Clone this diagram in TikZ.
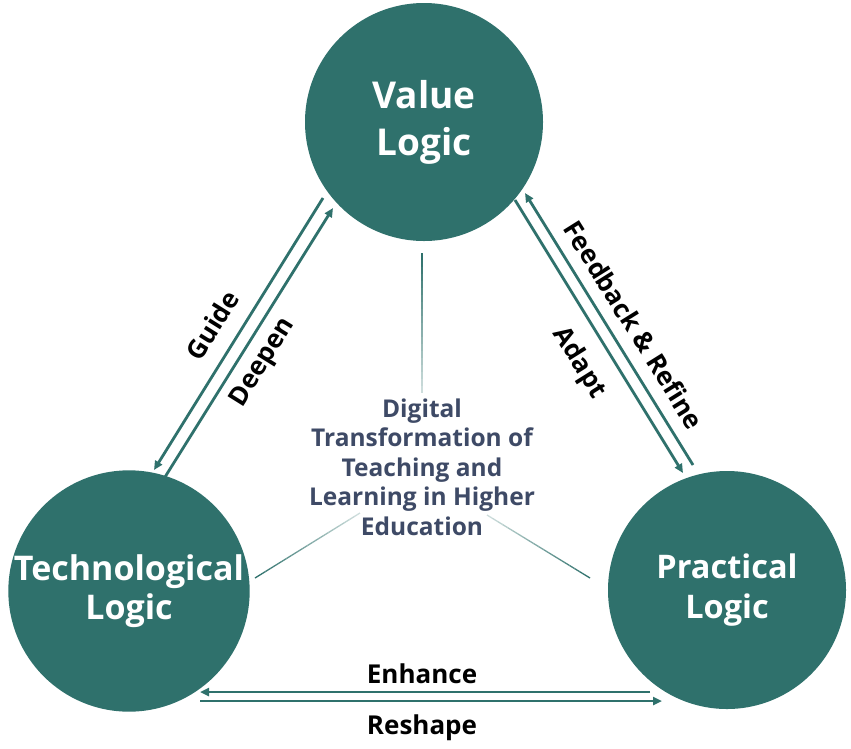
\documentclass[tikz,border=0pt]{standalone}
\usepackage{fontspec}
\setmainfont{Open Sans}
\usetikzlibrary{arrows.meta,calc}
\definecolor{tealc}{HTML}{2F716C}
\definecolor{navyc}{HTML}{3E4A66}
\begin{document}
\begin{tikzpicture}[x=1pt,y=-1pt,
  logic/.style={circle, fill=tealc, minimum size=238pt, inner sep=0pt, text=white,
    font=\bfseries\fontsize{34}{39}\selectfont, align=center},
  link/.style={draw=tealc, line width=2.8pt, -{Triangle[length=9pt,width=8pt]}},
  lbl/.style={font=\bfseries\fontsize{26}{30}\selectfont, text=black, inner sep=0pt},
  centretext/.style={font=\bfseries\fontsize{24.5}{29.5}\selectfont, text=navyc, align=center, inner sep=0pt}
]
\useasboundingbox[fill=white] (0,0) rectangle (851,748);

\node[logic, font=\bfseries\fontsize{37}{47}\selectfont] (val) at (424,122) {Value\\Logic};
\node[logic] (tech) at (129,591) {Technological\\Logic};
\node[logic, font=\bfseries\fontsize{32.5}{40}\selectfont] (prac) at (727,590) {Practical\\Logic};

\node[centretext] (core) at (422,467) {Digital\\Transformation of\\Teaching and\\Learning in Higher\\Education};

% faded thin lines
\coordinate (v1) at (422,253); \coordinate (v2) at (422,393);
\coordinate (l1) at (255,578); \coordinate (l2) at (360,513);
\coordinate (r1) at (590,578); \coordinate (r2) at (487,515);
\foreach \a/\b in {v1/v2, l1/l2, r1/r2}{
  \foreach \i in {0,...,19}{
    \pgfmathtruncatemacro\p{100-4*\i}
    \draw[tealc!\p!white, line width=1.3pt] ($(\a)!{\i/20}!(\b)$) -- ($(\a)!{(\i+1)/20}!(\b)$);
  }
}

% arrow end points
\coordinate (gS) at (323,198); \coordinate (gE) at (154,470);
\coordinate (dS) at (165,477); \coordinate (dE) at (333,208);
\coordinate (aS) at (515,200); \coordinate (aE) at (683,473);
\coordinate (fS) at (693,465); \coordinate (fE) at (525,193);
\coordinate (eS) at (650,692); \coordinate (eE) at (200,692);
\coordinate (rS) at (200,701); \coordinate (rE) at (662,701);

\draw[link] (gS) -- (gE);
\draw[link] (dS) -- (dE);
\draw[link] (aS) -- (aE);
\draw[link] (fS) -- (fE);
\draw[link] (eS) -- (eE);
\draw[link] (rS) -- (rE);

\node[lbl, rotate=58] (guide) at (212,325) {Guide};
\node[lbl, rotate=58] (deepen) at (263,363) {Deepen};
\node[lbl, rotate=-58] (feedback) at (634,325) {Feedback \& Refine};
\node[lbl, rotate=-58] (adapt) at (579,363) {Adapt};
\node[lbl, anchor=base] (enhance) at (422,683) {Enhance};
\node[lbl, anchor=base] (reshape) at (422,734) {Reshape};
\end{tikzpicture}
\end{document}
